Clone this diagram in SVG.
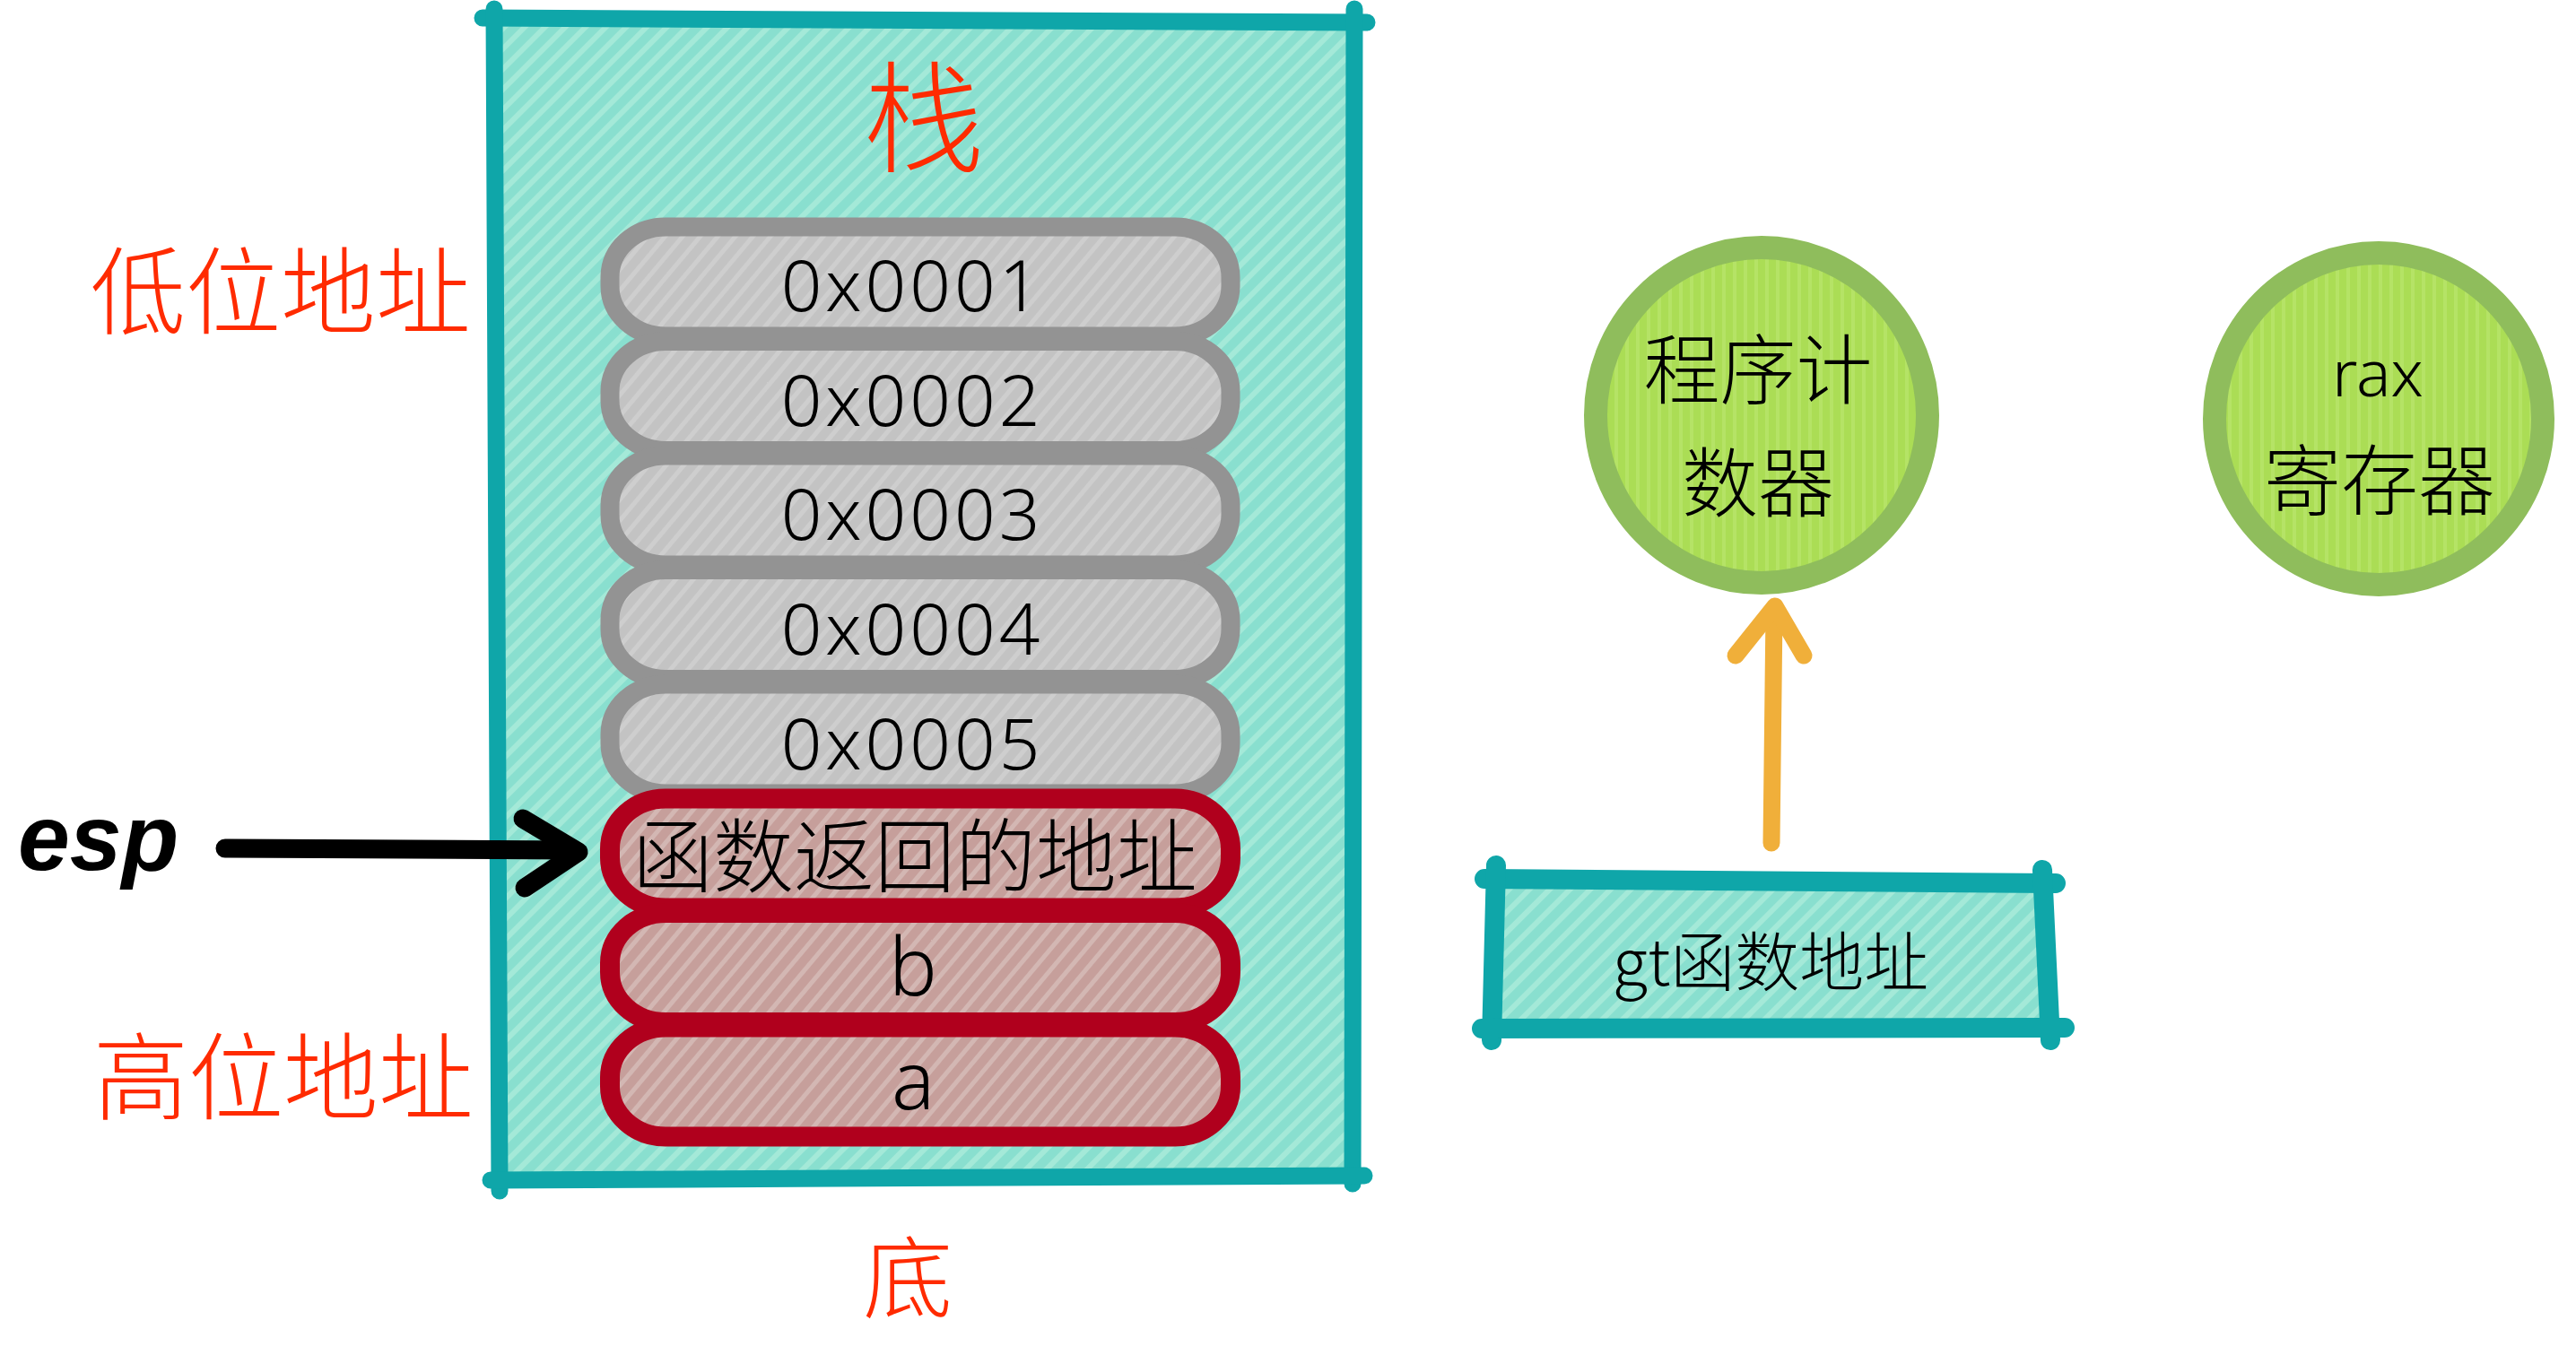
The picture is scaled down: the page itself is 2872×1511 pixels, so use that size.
<svg xmlns="http://www.w3.org/2000/svg" width="2872" height="1511" viewBox="0 0 2872 1511">
  <defs>
    <!-- hatched fills -->
    <pattern id="hatchTeal" width="16" height="16" patternUnits="userSpaceOnUse" patternTransform="rotate(45)">
      <rect width="16" height="16" fill="#89dfcf"/>
      <rect width="6" height="16" fill="#a4e9d8"/>
    </pattern>
    <pattern id="hatchGray" width="15" height="15" patternUnits="userSpaceOnUse" patternTransform="rotate(40)">
      <rect width="15" height="15" fill="#c3c3c3"/>
      <rect width="5" height="15" fill="#cecece"/>
    </pattern>
    <pattern id="hatchRose" width="15" height="15" patternUnits="userSpaceOnUse" patternTransform="rotate(40)">
      <rect width="15" height="15" fill="#c69f9b"/>
      <rect width="5" height="15" fill="#d3b7b3"/>
    </pattern>
    <pattern id="hatchGreen" width="12" height="12" patternUnits="userSpaceOnUse">
      <rect width="12" height="12" fill="#abdd55"/>
      <rect width="4" height="12" fill="#b5e366"/>
    </pattern>
  </defs>
  <style>
    .frame { stroke: #0fa6a9; stroke-width: 19; stroke-linecap: round; fill: none; }
    .pill-g { fill: url(#hatchGray); stroke: #939393; stroke-width: 21; }
    .pill-r { fill: url(#hatchRose); stroke: #b0001d; stroke-width: 22; }
    .reg { fill: url(#hatchGreen); stroke: #8fbd5c; stroke-width: 26; }
    .red { fill: #ff2b00; font-family: "Noto Sans CJK SC", "Noto Sans", sans-serif; font-weight: 300; text-anchor: middle; }
    .cell { fill: #000; font-family: "Noto Sans", "Noto Sans CJK SC", sans-serif; font-weight: 300; text-anchor: middle; }
    .zh { fill: #000; font-family: "Noto Sans CJK SC", sans-serif; font-weight: 300; text-anchor: middle; }
    .wire { fill: none; stroke-linecap: round; stroke-linejoin: round; }
  </style>

  <rect width="2872" height="1511" fill="#ffffff"/>

  <!-- stack frame -->
  <g id="stack">
    <polygon points="551,20 1510,24 1508,1311 557,1316" fill="url(#hatchTeal)"/>
    <line class="frame" x1="538" y1="20" x2="1524" y2="25"/>
    <line class="frame" x1="551" y1="10" x2="557" y2="1328"/>
    <line class="frame" x1="1510" y1="10" x2="1508" y2="1320"/>
    <line class="frame" x1="547" y1="1316" x2="1521" y2="1311"/>
    <text class="red" x="1030" y="182" font-size="135">栈</text>
  </g>

  <!-- stack cells -->
  <g id="cell-0x0001">
    <rect class="pill-g" x="680" y="253" width="692" height="122" rx="62" ry="56"/>
    <text class="cell" x="1017" y="347" font-size="80" letter-spacing="4">0x0001</text>
  </g>
  <g id="cell-0x0002">
    <rect class="pill-g" x="680" y="380.5" width="692" height="122" rx="62" ry="56"/>
    <text class="cell" x="1017" y="475" font-size="80" letter-spacing="4">0x0002</text>
  </g>
  <g id="cell-0x0003">
    <rect class="pill-g" x="680" y="508" width="692" height="122" rx="62" ry="56"/>
    <text class="cell" x="1017" y="602" font-size="80" letter-spacing="4">0x0003</text>
  </g>
  <g id="cell-0x0004">
    <rect class="pill-g" x="680" y="635.5" width="692" height="122" rx="62" ry="56"/>
    <text class="cell" x="1017" y="730" font-size="80" letter-spacing="4">0x0004</text>
  </g>
  <g id="cell-0x0005">
    <rect class="pill-g" x="680" y="763" width="692" height="122" rx="62" ry="56"/>
    <text class="cell" x="1017" y="858" font-size="80" letter-spacing="4">0x0005</text>
  </g>
  <g id="cell-ret">
    <rect class="pill-r" x="680" y="890.5" width="692" height="122" rx="62" ry="56"/>
    <text class="zh" x="1020" y="988" font-size="90">函数返回的地址</text>
  </g>
  <g id="cell-b">
    <rect class="pill-r" x="680" y="1018" width="692" height="122" rx="62" ry="56"/>
    <text class="cell" x="1018" y="1110" font-size="90">b</text>
  </g>
  <g id="cell-a">
    <rect class="pill-r" x="680" y="1145.5" width="692" height="122" rx="62" ry="56"/>
    <text class="cell" x="1018" y="1237" font-size="90">a</text>
  </g>

  <!-- side labels -->
  <g id="label-low">
    <text class="red" x="313" y="364" font-size="106">低位地址</text>
  </g>
  <g id="label-high">
    <text class="red" x="316" y="1240" font-size="106">高位地址</text>
  </g>
  <g id="label-bottom">
    <text class="red" x="1012" y="1462" font-size="100">底</text>
  </g>
  <g id="esp">
    <text x="20" y="970" font-family="Liberation Sans, sans-serif" font-weight="bold" font-style="italic" font-size="104" fill="#000">esp</text>
  </g>

  <!-- registers -->
  <g id="pc">
    <ellipse class="reg" cx="1964" cy="463" rx="185" ry="187"/>
    <text class="zh" x="1960" y="444" font-size="85">程序计</text>
    <text class="zh" x="1960" y="570" font-size="85">数器</text>
  </g>
  <g id="rax">
    <ellipse class="reg" cx="2652" cy="467" rx="183" ry="185"/>
    <text class="cell" x="2651" y="442" font-size="72">rax</text>
    <text class="zh" x="2653" y="568" font-size="86">寄存器</text>
  </g>

  <!-- gt function address -->
  <g id="gt">
    <polygon points="1667,980 2279,985 2288,1147 1662,1147" fill="url(#hatchTeal)"/>
    <line class="frame" style="stroke-width:22" x1="1655" y1="980" x2="2292" y2="985"/>
    <line class="frame" style="stroke-width:22" x1="1668" y1="965" x2="1663" y2="1160"/>
    <line class="frame" style="stroke-width:22" x1="2277" y1="970" x2="2286" y2="1160"/>
    <line class="frame" style="stroke-width:22" x1="1652" y1="1147" x2="2302" y2="1146"/>
    <text class="zh" x="1974" y="1099" font-size="72">gt函数地址</text>
  </g>

  <!-- connectors -->
  <g id="connectors">
    <g class="wire" stroke="#000" stroke-width="21">
      <line x1="251" y1="946" x2="640" y2="948"/>
      <polyline points="583,913 645,950 585,990"/>
    </g>
    <g class="wire" stroke="#f0af3a" stroke-width="19">
      <line x1="1975" y1="940" x2="1978" y2="682"/>
      <polyline points="1935,731 1979,676 2011,731"/>
    </g>
  </g>
</svg>
